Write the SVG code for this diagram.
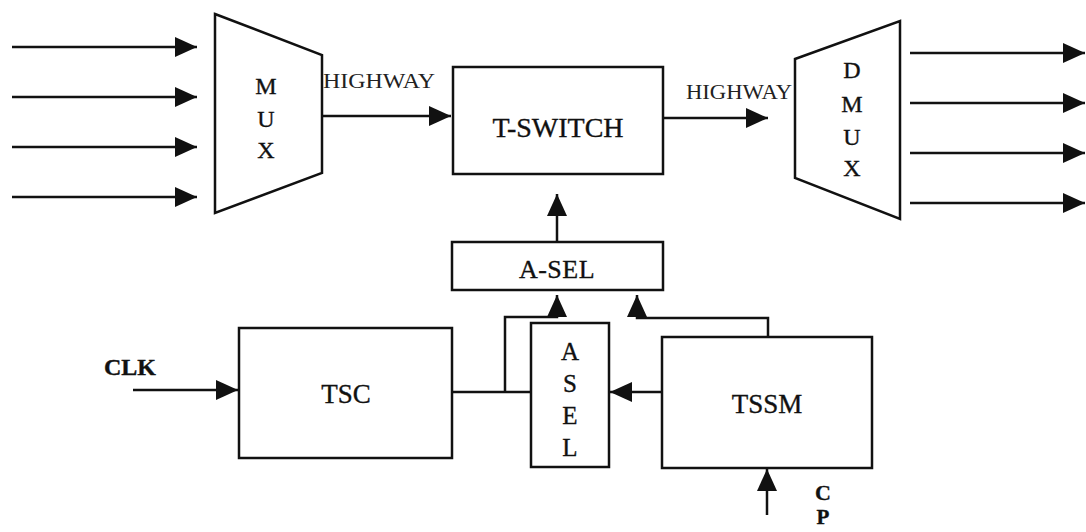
<svg xmlns="http://www.w3.org/2000/svg" width="1086" height="532" viewBox="0 0 1086 532">
<style>
.box{fill:none;stroke:#111;stroke-width:2.5}
.ln{fill:none;stroke:#111;stroke-width:2.5}
.t{font-family:"Liberation Serif","Times New Roman",serif;fill:#111;stroke:#111;stroke-width:0.35;text-anchor:middle}
.hw{font-family:"Liberation Serif","Times New Roman",serif;fill:#222;font-size:21px}
</style>
<defs>
<marker id="ah" markerUnits="userSpaceOnUse" markerWidth="22" markerHeight="20" refX="22" refY="10" orient="auto">
<path d="M0,0 L22,10 L0,20 z" fill="#111"/>
</marker>
</defs>
<rect width="1086" height="532" fill="#fff"/>
<g id="mux">
<path class="box" d="M215,14 L322,55 L322,173 L215,213 Z"/>
<text class="t" x="266" y="94" font-size="24">M</text>
<text class="t" x="266" y="127" font-size="24">U</text>
<text class="t" x="266" y="158" font-size="24">X</text>
</g>
<g id="tswitch">
<rect class="box" x="453" y="67" width="210" height="107"/>
<text class="t" x="558" y="137" font-size="28">T-SWITCH</text>
</g>
<g id="dmux">
<path class="box" d="M795,59 L900,21 L900,219 L795,178 Z"/>
<text class="t" x="852" y="78" font-size="24">D</text>
<text class="t" x="852" y="112" font-size="24">M</text>
<text class="t" x="852" y="145" font-size="24">U</text>
<text class="t" x="852" y="176" font-size="24">X</text>
</g>
<g id="asel-h">
<rect class="box" x="452" y="242" width="211" height="48"/>
<text class="t" x="557" y="278" font-size="26" letter-spacing="0.5">A-SEL</text>
</g>
<g id="tsc">
<rect class="box" x="239" y="328" width="213" height="130"/>
<text class="t" x="346" y="403" font-size="27">TSC</text>
</g>
<g id="asel-v">
<rect class="box" x="531" y="323" width="78" height="144"/>
<text class="t" x="570" y="360" font-size="25">A</text>
<text class="t" x="570" y="392" font-size="25">S</text>
<text class="t" x="570" y="424" font-size="25">E</text>
<text class="t" x="570" y="456" font-size="25">L</text>
</g>
<g id="tssm">
<rect class="box" x="662" y="337" width="210" height="131"/>
<text class="t" x="767" y="413" font-size="27">TSSM</text>
</g>
<g id="labels">
<text class="hw" x="323" y="88" textLength="112" lengthAdjust="spacingAndGlyphs">HIGHWAY</text>
<text class="hw" x="686" y="99" textLength="106" lengthAdjust="spacingAndGlyphs">HIGHWAY</text>
<text class="t" x="130" y="375" font-size="24" font-weight="bold">CLK</text>
<text class="t" x="823" y="500" font-size="22" font-weight="bold">C</text>
<text class="t" x="823" y="524" font-size="21" font-weight="bold">P</text>
</g>
<g id="connectors">
<line class="ln" x1="12" y1="47" x2="197" y2="47" marker-end="url(#ah)"/>
<line class="ln" x1="12" y1="97" x2="197" y2="97" marker-end="url(#ah)"/>
<line class="ln" x1="12" y1="147" x2="197" y2="147" marker-end="url(#ah)"/>
<line class="ln" x1="12" y1="197" x2="197" y2="197" marker-end="url(#ah)"/>
<line class="ln" x1="322" y1="116" x2="451" y2="116" marker-end="url(#ah)"/>
<line class="ln" x1="663" y1="118" x2="768" y2="118" marker-end="url(#ah)"/>
<line class="ln" x1="910" y1="53" x2="1085" y2="53" marker-end="url(#ah)"/>
<line class="ln" x1="910" y1="103" x2="1085" y2="103" marker-end="url(#ah)"/>
<line class="ln" x1="910" y1="153" x2="1085" y2="153" marker-end="url(#ah)"/>
<line class="ln" x1="910" y1="203" x2="1085" y2="203" marker-end="url(#ah)"/>
<line class="ln" x1="557" y1="242" x2="557" y2="194" marker-end="url(#ah)"/>
<line class="ln" x1="133" y1="390" x2="238" y2="390" marker-end="url(#ah)"/>
<line class="ln" x1="452" y1="392" x2="531" y2="392"/>
<polyline class="ln" points="505,392 505,317 557,317 557,295" marker-end="url(#ah)"/>
<polyline class="ln" points="768,337 768,318 637,318 637,295" marker-end="url(#ah)"/>
<line class="ln" x1="662" y1="392" x2="610" y2="392" marker-end="url(#ah)"/>
<line class="ln" x1="767" y1="515" x2="767" y2="469" marker-end="url(#ah)"/>
</g>
</svg>
